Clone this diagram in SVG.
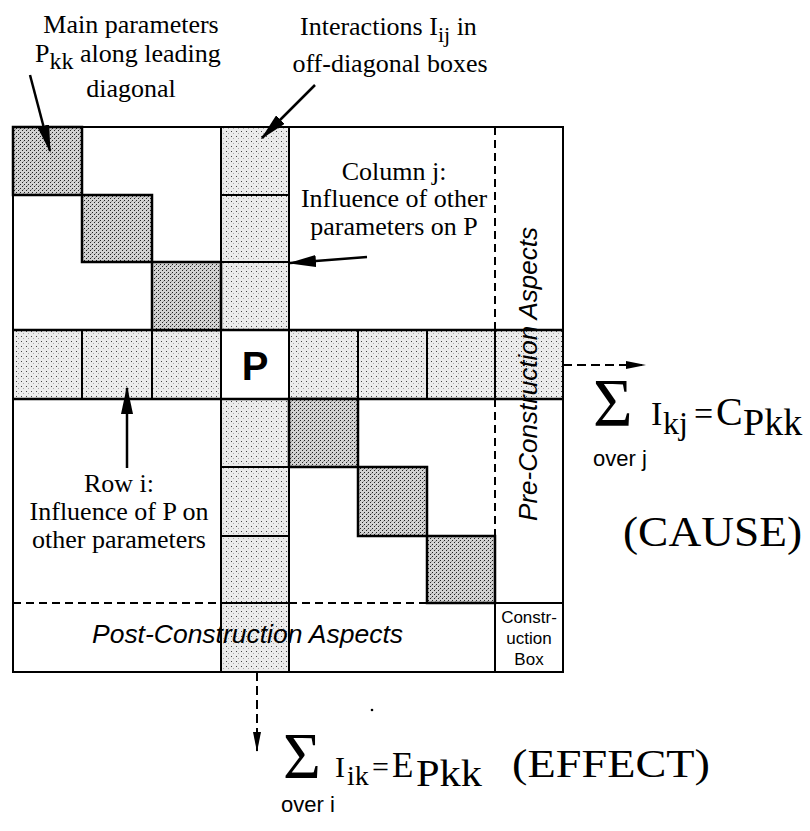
<svg xmlns="http://www.w3.org/2000/svg" width="810" height="831" viewBox="0 0 810 831">
<defs>
<pattern id="dk" width="4" height="4" patternUnits="userSpaceOnUse"><rect width="4" height="4" fill="#d2d2d2"/><rect x="0" y="0" width="1" height="1" fill="#222"/><rect x="2" y="2" width="1" height="1" fill="#222"/><rect x="3" y="1" width="1" height="1" fill="#999"/></pattern>
<pattern id="lt" width="5" height="5" patternUnits="userSpaceOnUse"><rect width="5" height="5" fill="#ececec"/><rect x="1" y="1" width="1" height="1" fill="#444"/><rect x="3" y="3" width="1" height="1" fill="#aaa"/></pattern>
<marker id="ah" viewBox="0 0 28 12" refX="26" refY="6" markerWidth="28" markerHeight="12" orient="auto" markerUnits="userSpaceOnUse"><path d="M0,0 L28,6 L0,12 z" fill="#000"/></marker>
<marker id="ahs" viewBox="0 0 20 8" refX="19" refY="4" markerWidth="20" markerHeight="8" orient="auto" markerUnits="userSpaceOnUse"><path d="M0,0 L20,4 L0,8 z" fill="#000"/></marker>
<style>
.serif{font-family:"Liberation Serif","Times New Roman",serif;fill:#000}
.sans{font-family:"Liberation Sans",Arial,sans-serif;fill:#000}
.ln{stroke:#000;stroke-width:2;fill:none}
.thk{stroke:#000;stroke-width:2.5;fill:none}
.dash{stroke:#000;stroke-width:2;stroke-dasharray:8,5;fill:none}
.dg{fill:url(#dk);stroke:#000;stroke-width:2.5}
.od{fill:url(#lt);stroke:none}
.arrow{stroke:#000;stroke-width:2.5;fill:none;marker-end:url(#ah)}
.darrow{stroke:#000;stroke-width:2;stroke-dasharray:9,5;fill:none;marker-end:url(#ahs)}
</style>
</defs>
<rect width="810" height="831" fill="#fff"/>

<g id="matrix">
  <rect class="od" x="221" y="127" width="68" height="68"/>
  <rect class="od" x="221" y="195" width="68" height="67"/>
  <rect class="od" x="221" y="262" width="68" height="68"/>
  <rect class="od" x="221" y="399" width="68" height="68"/>
  <rect class="od" x="221" y="467" width="68" height="69"/>
  <rect class="od" x="221" y="536" width="68" height="67"/>
  <rect class="od" x="221" y="603" width="68" height="69"/>
  <rect class="od" x="13" y="330" width="69" height="69"/>
  <rect class="od" x="82" y="330" width="70" height="69"/>
  <rect class="od" x="152" y="330" width="69" height="69"/>
  <rect class="od" x="289" y="330" width="69" height="69"/>
  <rect class="od" x="358" y="330" width="69" height="69"/>
  <rect class="od" x="427" y="330" width="68" height="69"/>
  <rect class="od" x="495" y="330" width="68" height="69"/>

  <line class="dash" x1="495" y1="127" x2="495" y2="330"/>
  <line class="dash" x1="495" y1="399" x2="495" y2="536"/>
  <line class="dash" x1="13" y1="603" x2="221" y2="603"/>
  <line class="dash" x1="289" y1="603" x2="427" y2="603"/>
  <line class="ln" x1="495" y1="603" x2="563" y2="603"/>
  <line class="ln" x1="495" y1="603" x2="495" y2="672"/>

  <line class="ln" x1="221" y1="127" x2="221" y2="672"/>
  <line class="ln" x1="289" y1="127" x2="289" y2="672"/>
  <line class="thk" x1="13" y1="330" x2="563" y2="330"/>
  <line class="thk" x1="13" y1="399" x2="563" y2="399"/>
  <line class="ln" x1="221" y1="195" x2="289" y2="195"/>
  <line class="ln" x1="221" y1="262" x2="289" y2="262"/>
  <line class="ln" x1="221" y1="467" x2="289" y2="467"/>
  <line class="ln" x1="221" y1="536" x2="289" y2="536"/>
  <line class="ln" x1="221" y1="603" x2="289" y2="603"/>
  <line class="ln" x1="82" y1="330" x2="82" y2="399"/>
  <line class="ln" x1="152" y1="330" x2="152" y2="399"/>
  <line class="ln" x1="358" y1="330" x2="358" y2="399"/>
  <line class="ln" x1="427" y1="330" x2="427" y2="399"/>
  <line class="ln" x1="495" y1="330" x2="495" y2="399"/>

  <rect class="dg" x="13" y="127" width="69" height="68"/>
  <rect class="dg" x="82" y="195" width="70" height="67"/>
  <rect class="dg" x="152" y="262" width="69" height="68"/>
  <rect class="dg" x="289" y="399" width="69" height="68"/>
  <rect class="dg" x="358" y="467" width="69" height="69"/>
  <rect class="dg" x="427" y="536" width="68" height="67"/>

  <rect class="ln" x="13" y="127" width="550" height="545"/>
</g>

<g id="node-P">
  <text class="sans" x="255" y="380" font-size="40" font-weight="bold" text-anchor="middle">P</text>
</g>

<g id="label-main">
  <text class="serif" font-size="26" x="131" y="33" text-anchor="middle">Main parameters</text>
  <text class="serif" font-size="26" x="35" y="62">P<tspan font-size="24" dy="7">kk</tspan><tspan dy="-7"> along leading</tspan></text>
  <text class="serif" font-size="26" x="131" y="97" text-anchor="middle">diagonal</text>
</g>

<g id="label-interactions">
  <text class="serif" font-size="26" x="300" y="35">Interactions I<tspan font-size="22" dy="7">ij</tspan><tspan dy="-7"> in</tspan></text>
  <text class="serif" font-size="26" x="390" y="72" text-anchor="middle">off-diagonal boxes</text>
</g>

<g id="label-column">
  <text class="serif" font-size="26" x="394" y="180" text-anchor="middle">Column j:</text>
  <text class="serif" font-size="26" x="394" y="207" text-anchor="middle">Influence of other</text>
  <text class="serif" font-size="26" x="394" y="235" text-anchor="middle">parameters on P</text>
</g>

<g id="label-row">
  <text class="serif" font-size="26" x="119" y="492" text-anchor="middle">Row i:</text>
  <text class="serif" font-size="26" x="119" y="520" text-anchor="middle">Influence of P on</text>
  <text class="serif" font-size="26" x="119" y="548" text-anchor="middle">other parameters</text>
</g>

<g id="label-pre">
  <text class="sans" font-size="26" font-style="italic" text-anchor="middle" transform="translate(537,374) rotate(-90)">Pre-Construction Aspects</text>
</g>

<g id="label-post">
  <text class="sans" font-size="26" font-style="italic" x="92" y="643" textLength="311" lengthAdjust="spacingAndGlyphs">Post-Construction Aspects</text>
</g>

<g id="label-construction">
  <text class="sans" font-size="17" x="529" y="623" text-anchor="middle">Constr-</text>
  <text class="sans" font-size="17" x="529" y="644" text-anchor="middle">uction</text>
  <text class="sans" font-size="17" x="529" y="665" text-anchor="middle">Box</text>
</g>

<g id="formula-cause">
  <text class="serif" x="593" y="425" font-size="68">Σ</text>
  <text class="serif" x="651" y="425" font-size="34">I</text>
  <text class="serif" x="663" y="434" font-size="32">kj</text>
  <text class="serif" x="694" y="425" font-size="34">=</text>
  <text class="serif" x="716" y="425" font-size="40">C</text>
  <text class="serif" x="743" y="435" font-size="38">Pkk</text>
  <text class="sans" x="593" y="466" font-size="22">over j</text>
  <text class="serif" x="623" y="546" font-size="42" textLength="179" lengthAdjust="spacingAndGlyphs">(CAUSE)</text>
</g>

<g id="formula-effect">
  <text class="serif" x="283" y="778" font-size="65">Σ</text>
  <text class="serif" x="335" y="777" font-size="30">I</text>
  <text class="serif" x="347" y="785" font-size="28">ik</text>
  <text class="serif" x="372" y="777" font-size="30">=</text>
  <text class="serif" x="392" y="777" font-size="35">E</text>
  <text class="serif" x="416" y="786" font-size="38" textLength="66" lengthAdjust="spacingAndGlyphs">Pkk</text>
  <text class="serif" x="512" y="777" font-size="40" textLength="198" lengthAdjust="spacingAndGlyphs">(EFFECT)</text>
  <text class="sans" x="281" y="812" font-size="22">over i</text>
</g>

<g id="connectors">
  <line class="arrow" x1="30" y1="75" x2="50" y2="151"/>
  <line class="arrow" x1="315" y1="85" x2="262" y2="138"/>
  <line class="arrow" x1="367" y1="257" x2="290" y2="263"/>
  <line class="arrow" x1="127" y1="468" x2="127" y2="388"/>
  <line class="darrow" x1="563" y1="365" x2="645" y2="365"/>
  <line class="darrow" x1="257" y1="672" x2="257" y2="751"/>
</g>
<circle cx="372" cy="710" r="1.3" fill="#000"/>
</svg>
